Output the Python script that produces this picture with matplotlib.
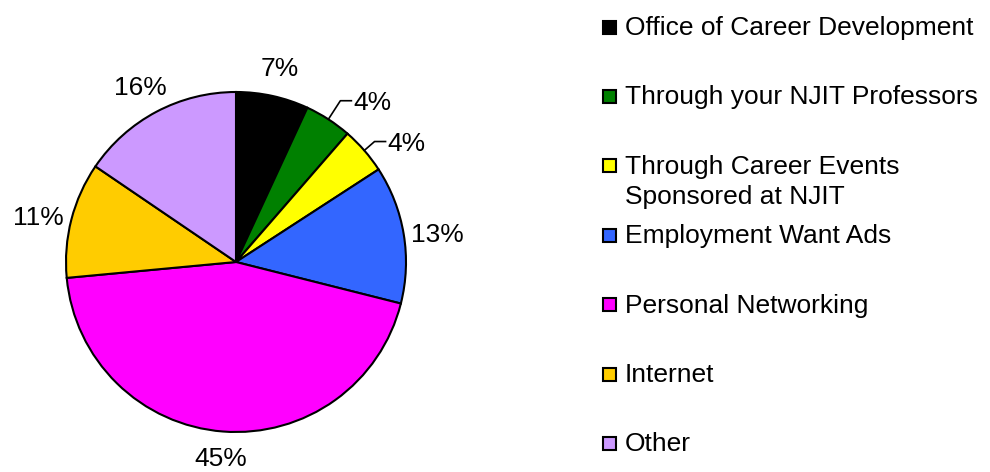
import numpy as np
import matplotlib
matplotlib.use("Agg")
import matplotlib.pyplot as plt
from matplotlib.patches import Rectangle

categories = [
    "Office of Career Development",
    "Through your NJIT Professors",
    "Through Career Events\nSponsored at NJIT",
    "Employment Want Ads",
    "Personal Networking",
    "Internet",
    "Other",
]
values = [6.9, 4.49, 4.45, 13.1, 44.6, 11.0, 15.5]
colors = ["#000000", "#008000", "#FFFF00", "#3366FF", "#FF00FF", "#FFCC00", "#CC99FF"]

plt.rcParams['font.family'] = ['Liberation Sans', 'DejaVu Sans']
FS = 19

W, H = 990, 472
fig = plt.figure(figsize=(W / 100, H / 100), dpi=100)
ax = fig.add_axes([0, 0, 1, 1])
ax.set_xlim(0, W)
ax.set_ylim(0, H)
ax.set_aspect('equal')
ax.axis('off')

cx, cy, R = 236, H - 262, 170
wedges, _ = ax.pie(values, colors=colors, startangle=90, counterclock=False,
                   center=(cx, cy), radius=R,
                   wedgeprops=dict(edgecolor='black', linewidth=1.5))
ax.set_xlim(0, W)
ax.set_ylim(0, H)

leader = {1: 1.13, 2: 1.08}
for i, (w, v) in enumerate(zip(wedges, values)):
    mid = np.deg2rad((w.theta1 + w.theta2) / 2)
    lab = f"{v:.0f}%"
    if i in leader:
        rr = leader[i]
        ex, ey = cx + R * np.cos(mid), cy + R * np.sin(mid)
        bx, by = cx + rr * R * np.cos(mid), cy + rr * R * np.sin(mid)
        ax.plot([ex, bx, bx + 11], [ey, by, by], color='black', lw=1.2)
        ax.text(bx + 13, by, lab, ha='left', va='center_baseline', fontsize=FS)
    else:
        d = 1.2 * R
        tx, ty = cx + d * np.cos(mid), max(cy + d * np.sin(mid) - 4, 15)
        ax.text(tx, ty, lab, ha='center', va='center_baseline', fontsize=FS)

# legend
y0, step = 25.5, 69.4
for i, (c, col) in enumerate(zip(categories, colors)):
    yc = H - (y0 + i * step)
    ax.add_patch(Rectangle((603, yc - 8), 13, 13, facecolor=col,
                           edgecolor='black', linewidth=1.5))
    lines = c.split("\n")
    for j, ln in enumerate(lines):
        ax.text(625, yc - j * 30, ln, ha='left', va='center_baseline', fontsize=FS)

fig.savefig("out.png", dpi=100)
